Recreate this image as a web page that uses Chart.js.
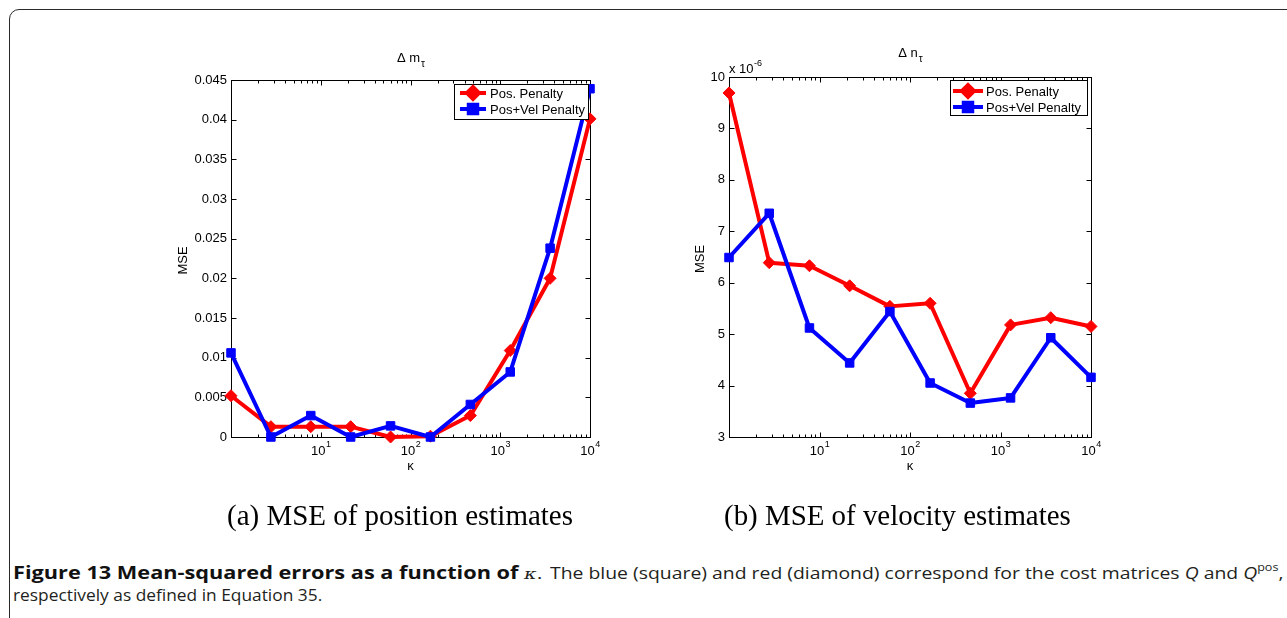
<!DOCTYPE html>
<html>
<head>
<meta charset="utf-8">
<script src="https://cdn.jsdelivr.net/npm/chart.js@4/dist/chart.umd.min.js"></script>
<style>
  html, body { margin: 0; padding: 0; background: #fff; }
  body { width: 1287px; height: 618px; position: relative; overflow: hidden; }
  #frame { position: absolute; left: 9px; top: 9px; width: 1320px; height: 700px;
           border: 1.5px solid #2a2a2a; border-radius: 10px; }
  canvas { position: absolute; top: 0; }
  #cA { left: 0; }
  #cB { left: 640px; }
  .cap { position: absolute; font-family: "Open Sans", sans-serif; font-size: 17px; line-height: 22px;
         color: #231f20; white-space: nowrap; transform-origin: 0 0; }
  .cap b { color: #111; }
  .cap i { font-style: italic; }
  .cap .kap { font-family: "DejaVu Serif", serif; font-size: 15px; }
  .cap sup { font-size: 11px; line-height: 0; position: relative; top: -1px; }
  #c1 { left: 13px; top: 562px; }
  #c2 { left: 550px; top: 562px; }
  #c3 { left: 13px; top: 584px; }
</style>
</head>
<body>
<div id="frame"></div>
<canvas id="cA" width="640" height="540"></canvas>
<canvas id="cB" width="647" height="540"></canvas>
<div class="cap" id="c1" data-w="530"><b>Figure 13 Mean-squared errors as a function of </b><i class="kap">κ</i>.</div>
<div class="cap" id="c2" data-w="733">The blue (square) and red (diamond) correspond for the cost matrices <i>Q</i> and <i>Q</i><sup>pos</sup>,</div>
<div class="cap" id="c3" data-w="309">respectively as defined in Equation 35.</div>
<script>
// kappa values shared by both panels
const kappa = [1, 2.783, 7.743, 21.54, 59.95, 166.8, 464.2, 1292, 3594, 10000];

// Panel (a): MSE of position estimates
const posPenaltyM    = [0.0052, 0.0013, 0.0013, 0.0013, 0.0000, 0.0001, 0.0027, 0.0109, 0.0200, 0.0401];
const posVelPenaltyM = [0.0106, 0.0000, 0.0027, 0.0000, 0.0014, 0.0000, 0.0041, 0.0082, 0.0238, 0.0439];
const yTicksM = [0, 0.005, 0.01, 0.015, 0.02, 0.025, 0.03, 0.035, 0.04, 0.045];

// Panel (b): MSE of velocity estimates, in units of 1e-6
const posPenaltyN    = [9.69, 6.39, 6.33, 5.94, 5.54, 5.60, 3.85, 5.18, 5.32, 5.15];
const posVelPenaltyN = [6.49, 7.35, 5.12, 4.44, 5.44, 4.05, 3.66, 3.76, 4.93, 4.16];
const yTicksN = [3, 4, 5, 6, 7, 8, 9, 10];

const xDecades = [10, 100, 1000, 10000];
const seriesNames = ['Pos. Penalty', 'Pos+Vel Penalty'];
const RED = '#ff0000', BLUE = '#0000ff';

const SANS = '"Liberation Sans", Arial, Helvetica, sans-serif';
const SERIF = '"Liberation Serif", "DejaVu Serif", serif';

function seg(ctx, x1, y1, x2, y2) {
  ctx.beginPath(); ctx.moveTo(x1, y1); ctx.lineTo(x2, y2); ctx.stroke();
}

// Box, inward ticks, labels, title, legend in the MATLAB look
function axesPlugin(cfg) {
  return {
    id: 'matlabAxes',
    beforeDatasetsDraw(chart) {
      const { ctx, chartArea: a, scales: { x, y } } = chart;
      ctx.save();
      ctx.strokeStyle = '#000';
      ctx.lineWidth = 1;
      const L = Math.round(a.left) + 0.5, R = Math.round(a.right) + 0.5;
      const T = Math.round(a.top) + 0.5, B = Math.round(a.bottom) + 0.5;
      ctx.strokeRect(L, T, R - L, B - T);
      for (let d = 1; d < x.max; d *= 10) {
        for (let m = 1; m <= 9; m++) {
          const v = d * m;
          if (v <= x.min || v >= x.max) continue;
          const px = Math.round(x.getPixelForValue(v)) + 0.5;
          const len = m === 1 ? 5 : 3;
          seg(ctx, px, B, px, B - len);
          seg(ctx, px, T, px, T + len);
        }
      }
      y.ticks.forEach(t => {
        const py = Math.round(y.getPixelForValue(t.value)) + 0.5;
        seg(ctx, L, py, L + 5, py);
        seg(ctx, R, py, R - 5, py);
      });
      ctx.restore();
    },
    afterDraw(chart) {
      const { ctx, chartArea: a, scales: { x } } = chart;
      ctx.save();
      ctx.fillStyle = '#000';
      ctx.textBaseline = 'alphabetic';
      ctx.textAlign = 'left';

      // decade labels 10^n
      xDecades.forEach(v => {
        if (v <= x.min || v > x.max) return;
        const px = x.getPixelForValue(v);
        const exp = String(Math.round(Math.log10(v)));
        ctx.font = '13px ' + SANS;
        const wb = ctx.measureText('10').width;
        ctx.font = '9px ' + SANS;
        const we = ctx.measureText(exp).width;
        const x0 = px - (wb + we) / 2;
        ctx.font = '13px ' + SANS;
        ctx.fillText('10', x0, a.bottom + 18);
        ctx.font = '9px ' + SANS;
        ctx.fillText(exp, x0 + wb + 0.5, a.bottom + 10);
      });

      // axis titles
      ctx.font = '13px ' + SANS;
      ctx.textAlign = 'center';
      ctx.fillText('κ', (a.left + a.right) / 2, a.bottom + 33);
      ctx.save();
      ctx.translate(cfg.yTitleX, (a.top + a.bottom) / 2 + 2);
      ctx.rotate(-Math.PI / 2);
      ctx.fillText('MSE', 0, 0);
      ctx.restore();

      // panel title: Δ m_τ / Δ n_τ
      ctx.textAlign = 'left';
      ctx.font = '13px ' + SANS;
      const wMain = ctx.measureText(cfg.title).width;
      ctx.font = '10px ' + SANS;
      const wSub = ctx.measureText('τ').width;
      const tx = (a.left + a.right) / 2 - (wMain + wSub) / 2;
      ctx.font = '13px ' + SANS;
      ctx.fillText(cfg.title, tx, a.top - cfg.titleGap);
      ctx.font = '10px ' + SANS;
      ctx.fillText('τ', tx + wMain + 1, a.top - cfg.titleGap + 5);

      // exponent multiplier
      if (cfg.multiplier) {
        ctx.font = '13px ' + SANS;
        const wx = ctx.measureText('x 10').width;
        ctx.fillText('x 10', a.left, a.top - 4);
        ctx.font = '9px ' + SANS;
        ctx.fillText(cfg.multiplier, a.left + wx + 0.5, a.top - 11);
      }

      // legend
      const lg = cfg.legend;
      ctx.fillStyle = '#fff';
      ctx.fillRect(lg.x1, lg.y1, lg.x2 - lg.x1, lg.y2 - lg.y1);
      ctx.strokeStyle = '#000';
      ctx.lineWidth = 1;
      ctx.strokeRect(Math.round(lg.x1) + 0.5, Math.round(lg.y1) + 0.5,
                     Math.round(lg.x2 - lg.x1), Math.round(lg.y2 - lg.y1));
      chart.data.datasets.forEach((ds, i) => {
        const ry = lg.rows[i];
        ctx.strokeStyle = ds.borderColor;
        ctx.lineWidth = 4;
        seg(ctx, lg.lx1, ry, lg.lx2, ry);
        ctx.fillStyle = ds.borderColor;
        Chart.helpers.drawPoint(ctx, { pointStyle: ds.pointStyle, rotation: 0,
          radius: ds.pointRadius, borderWidth: 1 }, (lg.lx1 + lg.lx2) / 2, ry);
        ctx.fillStyle = '#000';
        ctx.font = '13px ' + SANS;
        ctx.fillText(ds.label, lg.tx, ry + 4.5);
      });

      // sub-caption under the panel
      ctx.fillStyle = '#000';
      ctx.font = '100px ' + SERIF;
      const w100 = ctx.measureText(cfg.caption).width;
      ctx.font = (100 * cfg.captionWidth / w100).toFixed(2) + 'px ' + SERIF;
      ctx.fillText(cfg.caption, cfg.captionX, cfg.captionY);
      ctx.restore();
    }
  };
}

function makePanel(canvasId, red, blue, yMin, yMax, yStep, yFmt, box, cfg) {
  const pts = arr => kappa.map((k, i) => ({ x: k, y: arr[i] }));
  const common = { borderWidth: 4, pointRadius: 6, pointHoverRadius: 6, pointBorderWidth: 1,
                   tension: 0, clip: false, borderJoinStyle: 'round', fill: false };
  return new Chart(document.getElementById(canvasId), {
    type: 'line',
    data: {
      datasets: [
        Object.assign({ label: seriesNames[0], data: pts(red), borderColor: RED,
          backgroundColor: RED, pointBackgroundColor: RED, pointBorderColor: RED,
          pointStyle: 'rectRot', order: 1 }, common),
        Object.assign({ label: seriesNames[1], data: pts(blue), borderColor: BLUE,
          backgroundColor: BLUE, pointBackgroundColor: BLUE, pointBorderColor: BLUE,
          pointStyle: 'rect', order: 0 }, common)
      ]
    },
    options: {
      responsive: false,
      maintainAspectRatio: false,
      devicePixelRatio: 1,
      animation: false,
      events: [],
      layout: { padding: { left: 0, top: box.top, right: box.right, bottom: 0 } },
      plugins: { legend: { display: false }, tooltip: { enabled: false }, title: { display: false } },
      scales: {
        x: {
          type: 'logarithmic', min: kappa[0], max: kappa[kappa.length - 1],
          grid: { display: false }, border: { display: false },
          ticks: { display: false },
          afterFit(s) { s.height = box.xAxisHeight; }
        },
        y: {
          type: 'linear', min: yMin, max: yMax,
          grid: { display: false, drawTicks: false }, border: { display: false },
          ticks: { stepSize: yStep, padding: 4, color: '#000',
                   font: { family: SANS, size: 13 }, callback: yFmt },
          afterFit(s) { s.width = box.left; }
        }
      }
    },
    plugins: [axesPlugin(cfg)]
  });
}

makePanel('cA', posPenaltyM, posVelPenaltyM, yTicksM[0], yTicksM[yTicksM.length - 1], 0.005,
  v => String(+Number(v).toFixed(3)),
  { left: 231, top: 80, right: 50, xAxisHeight: 103 },
  { title: 'Δ m', titleGap: 18, yTitleX: 187,
    legend: { x1: 454, y1: 84, x2: 588, y2: 119, lx1: 460, lx2: 486, tx: 490, rows: [93, 109] },
    caption: '(a) MSE of position estimates', captionX: 227, captionWidth: 346, captionY: 525 });

makePanel('cB', posPenaltyN, posVelPenaltyN, yTicksN[0], yTicksN[yTicksN.length - 1], 1,
  v => String(Math.round(v)),
  { left: 89, top: 77, right: 196, xAxisHeight: 103 },
  { title: 'Δ n', titleGap: 20, yTitleX: 64, multiplier: '-6',
    legend: { x1: 310, y1: 80, x2: 447, y2: 115, lx1: 313, lx2: 343, tx: 346, rows: [91, 107] },
    caption: '(b) MSE of velocity estimates', captionX: 84, captionWidth: 347, captionY: 525 });

// condense each caption run to its measured column width
document.querySelectorAll('.cap').forEach(el => {
  const target = +el.dataset.w;
  el.style.transform = 'scaleX(' + (target / el.scrollWidth).toFixed(4) + ')';
});
</script>
</body>
</html>
